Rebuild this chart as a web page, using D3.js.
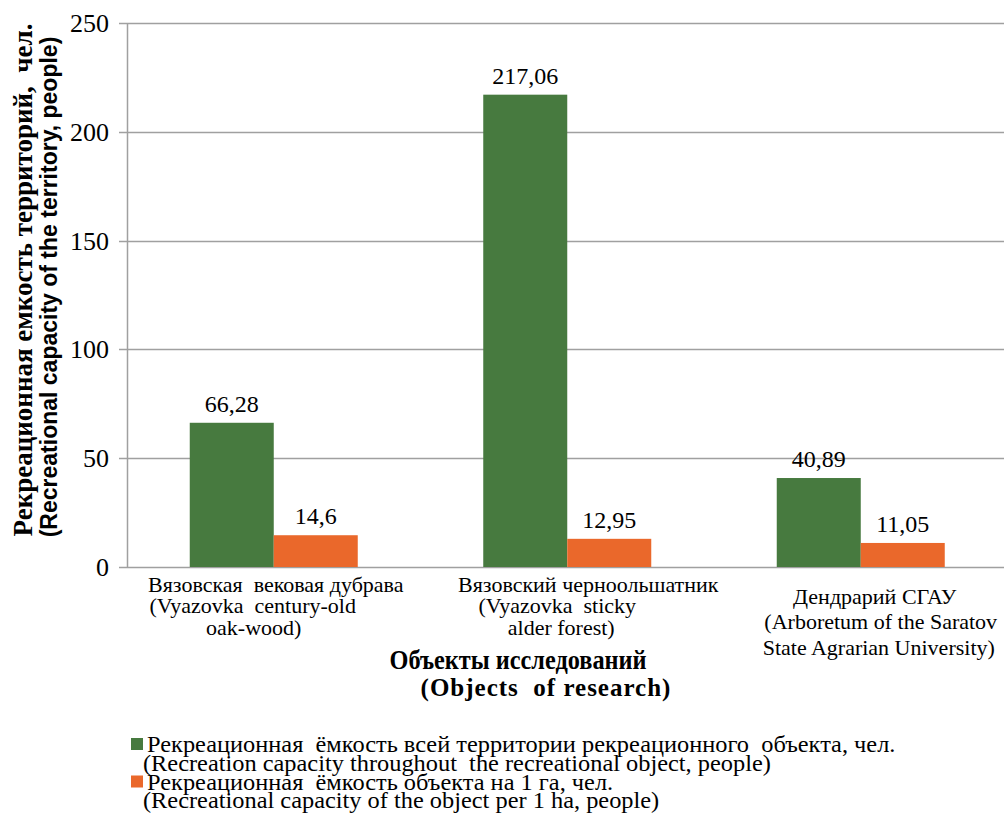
<!DOCTYPE html>
<html>
<head>
<meta charset="utf-8">
<script src="https://cdn.jsdelivr.net/npm/d3@7"></script>
<style>
  body { margin: 0; background: #fff; }
  svg text { font-family: "Liberation Serif", "Times New Roman", serif; fill: #000; }
</style>
</head>
<body>
<script>
// data
const categories = ["oak", "alder", "arboretum"];
const categoryLines = [
    ["Вязовская  вековая дубрава", "(Vyazovka  century-old", "oak-wood)"],
    ["Вязовский черноольшатник", "(Vyazovka  sticky", "alder forest)"],
    ["Дендрарий СГАУ", "(Arboretum of the Saratov", "State Agrarian University)"]
];
const seriesNames = ["total", "perHa"];
const totalValues = [66.28, 217.06, 40.89];
const perHaValues = [14.6, 12.95, 11.05];
const valueLabels = [["66,28", "217,06", "40,89"], ["14,6", "12,95", "11,05"]];
const yTicks = [0, 50, 100, 150, 200, 250];
const legendLines = [
    ["Рекреационная  ёмкость всей территории рекреационного  объекта, чел.",
     "(Recreation capacity throughout  the recreational object, people)"],
    ["Рекреационная  ёмкость объекта на 1 га, чел.",
     "(Recreational capacity of the object per 1 ha, people)"]
];

const colors = {total: "#477a3f", perHa: "#ea682b"};

const W = 1004, H = 815;
const plot = {left: 127, right: 1007.5, top: 23, bottom: 567};

const svg = d3.select("body").append("svg")
    .attr("width", W)
    .attr("height", H);

const x0 = d3.scaleBand().domain(categories).range([plot.left, plot.right]);
const yScale = d3.scaleLinear().domain([0, 250]).range([plot.bottom, plot.top]);

const barW = 84;
const x1 = d3.scaleBand().domain(seriesNames).range([-barW, barW]);

// gridlines
svg.append("g")
    .selectAll("line")
    .data(yTicks)
    .enter().append("line")
    .attr("x1", plot.left - 8)
    .attr("x2", W)
    .attr("y1", function(d) { return Math.round(yScale(d)) + 0.5; })
    .attr("y2", function(d) { return Math.round(yScale(d)) + 0.5; })
    .attr("stroke", "#a0a0a0")
    .attr("stroke-width", 1.5);

// y axis line
svg.append("line")
    .attr("x1", plot.left + 0.5).attr("x2", plot.left + 0.5)
    .attr("y1", plot.top).attr("y2", plot.bottom)
    .attr("stroke", "#a0a0a0").attr("stroke-width", 1.5);

// y tick labels
svg.append("g")
    .selectAll("text")
    .data(yTicks)
    .enter().append("text")
    .attr("x", plot.left - 18)
    .attr("y", function(d) { return yScale(d) + 9; })
    .attr("text-anchor", "end")
    .style("font-size", "26px")
    .text(function(d) { return d; });

// bars
const rows = [totalValues, perHaValues];
const bars = [];
seriesNames.forEach(function(s, si) {
    categories.forEach(function(c, ci) {
        bars.push({series: s, cat: c, value: rows[si][ci], label: valueLabels[si][ci]});
    });
});

const cx = function(d) { return x0(d.cat) + x0.bandwidth() / 2 + x1(d.series); };

svg.append("g")
    .selectAll("rect")
    .data(bars)
    .enter().append("rect")
    .attr("x", cx)
    .attr("width", x1.bandwidth())
    .attr("y", function(d) { return yScale(d.value); })
    .attr("height", function(d) { return plot.bottom - yScale(d.value); })
    .attr("fill", function(d) { return colors[d.series]; });

svg.append("g")
    .selectAll("text")
    .data(bars)
    .enter().append("text")
    .attr("x", function(d) { return cx(d) + x1.bandwidth() / 2; })
    .attr("y", function(d) { return yScale(d.value) - 11; })
    .attr("text-anchor", "middle")
    .style("font-size", "24px")
    .text(function(d) { return d.label; });

// category labels, each line nudged like the original
const catLayout = {
    dx: [[2, -21, -20], [21, -10, -6], [14, 20, 18]],
    y: [[592, 613, 635], [592, 613, 635], [604, 629, 655]]
};
categoryLines.forEach(function(lines, ci) {
    const center = x0(categories[ci]) + x0.bandwidth() / 2;
    lines.forEach(function(line, li) {
        svg.append("text")
            .attr("x", center + catLayout.dx[ci][li])
            .attr("y", catLayout.y[ci][li])
            .attr("text-anchor", "middle")
            .style("font-size", "22px")
            .style("white-space", "pre")
            .text(line);
    });
});

// x axis title
svg.append("text")
    .attr("transform", "translate(518,669) scale(0.9,1)")
    .attr("text-anchor", "middle")
    .style("font-size", "27px")
    .style("font-weight", "bold")
    .text("Объекты исследований");
svg.append("text")
    .attr("transform", "translate(546,696)")
    .attr("text-anchor", "middle")
    .style("font-size", "25px")
    .style("font-weight", "bold")
    .style("letter-spacing", "1px")
    .style("white-space", "pre")
    .text("(Objects  of research)");

// y axis title
svg.append("text")
    .attr("transform", "translate(32,280) rotate(-90)")
    .attr("text-anchor", "middle")
    .style("font-size", "27px")
    .style("font-weight", "bold")
    .style("white-space", "pre")
    .text("Рекреационная емкость территорий,  чел.");
svg.append("text")
    .attr("transform", "translate(57,287) rotate(-90)")
    .attr("text-anchor", "middle")
    .style("font-family", "'Liberation Sans', Arial, sans-serif")
    .style("font-size", "23px")
    .style("font-weight", "bold")
    .text("(Recreational capacity of the territory, people)");

// legend
const legend = svg.append("g");
seriesNames.forEach(function(s, si) {
    const base = 752 + si * 37.5;
    legend.append("rect")
        .attr("x", 131).attr("y", base - 14)
        .attr("width", 12).attr("height", 12)
        .attr("fill", colors[s]);
    legendLines[si].forEach(function(line, li) {
        legend.append("text")
            .attr("transform", "translate(" + (li === 0 ? 147 : 143) + "," + (base + li * 18.5) + ") scale(1.06,1)")
            .style("font-size", "23px")
            .style("white-space", "pre")
            .text(line);
    });
});
</script>
</body>
</html>
